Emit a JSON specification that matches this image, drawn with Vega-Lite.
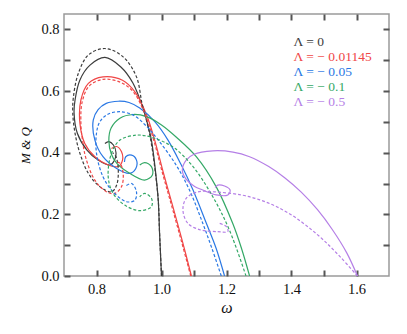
{
"$schema":"https://vega.github.io/schema/vega-lite/v6.json",
"width":325,"height":262,
"autosize":{"type":"none"},
"padding":{"left":64,"top":14,"right":18,"bottom":58},
"background":"white",
"config":{
 "view":{"stroke":"#9a9a9a","strokeWidth":1.5},
 "font":"Liberation Serif",
 "axis":{"domain":false,"grid":false,"labelFont":"Liberation Serif","labelFontSize":14.5,"labelColor":"#111","titleFont":"Liberation Serif","titleFontStyle":"italic","titleFontWeight":"normal","titleColor":"#111"},
 "legend":{"labelFont":"Liberation Serif"}
},
"datasets":{"d":[
{"s":"Λ = 0","q":"M","i":0,"w":1.0,"v":0},{"s":"Λ = 0","q":"M","i":1,"w":0.997,"v":0.07},{"s":"Λ = 0","q":"M","i":2,"w":0.994,"v":0.14},{"s":"Λ = 0","q":"M","i":3,"w":0.99,"v":0.246},{"s":"Λ = 0","q":"M","i":4,"w":0.98,"v":0.354},{"s":"Λ = 0","q":"M","i":5,"w":0.969,"v":0.441},{"s":"Λ = 0","q":"M","i":6,"w":0.958,"v":0.49},{"s":"Λ = 0","q":"M","i":7,"w":0.945,"v":0.538},{"s":"Λ = 0","q":"M","i":8,"w":0.912,"v":0.626},{"s":"Λ = 0","q":"M","i":9,"w":0.875,"v":0.678},{"s":"Λ = 0","q":"M","i":10,"w":0.826,"v":0.709},{"s":"Λ = 0","q":"M","i":11,"w":0.78,"v":0.684},{"s":"Λ = 0","q":"M","i":12,"w":0.749,"v":0.636},{"s":"Λ = 0","q":"M","i":13,"w":0.734,"v":0.571},{"s":"Λ = 0","q":"M","i":14,"w":0.731,"v":0.529},{"s":"Λ = 0","q":"M","i":15,"w":0.741,"v":0.463},{"s":"Λ = 0","q":"M","i":16,"w":0.77,"v":0.409},{"s":"Λ = 0","q":"M","i":17,"w":0.805,"v":0.376},{"s":"Λ = 0","q":"M","i":18,"w":0.841,"v":0.36},{"s":"Λ = 0","q":"M","i":19,"w":0.855,"v":0.375},{"s":"Λ = 0","q":"M","i":20,"w":0.86,"v":0.4},{"s":"Λ = 0","q":"M","i":21,"w":0.852,"v":0.425},{"s":"Λ = 0","q":"M","i":22,"w":0.838,"v":0.436},{"s":"Λ = 0","q":"M","i":23,"w":0.826,"v":0.43},
{"s":"Λ = 0","q":"Q","i":0,"w":1.0,"v":0},{"s":"Λ = 0","q":"Q","i":1,"w":0.997,"v":0.07},{"s":"Λ = 0","q":"Q","i":2,"w":0.994,"v":0.14},{"s":"Λ = 0","q":"Q","i":3,"w":0.99,"v":0.246},{"s":"Λ = 0","q":"Q","i":4,"w":0.979,"v":0.354},{"s":"Λ = 0","q":"Q","i":5,"w":0.967,"v":0.441},{"s":"Λ = 0","q":"Q","i":6,"w":0.955,"v":0.5},{"s":"Λ = 0","q":"Q","i":7,"w":0.94,"v":0.56},{"s":"Λ = 0","q":"Q","i":8,"w":0.923,"v":0.646},{"s":"Λ = 0","q":"Q","i":9,"w":0.882,"v":0.711},{"s":"Λ = 0","q":"Q","i":10,"w":0.826,"v":0.738},{"s":"Λ = 0","q":"Q","i":11,"w":0.775,"v":0.717},{"s":"Λ = 0","q":"Q","i":12,"w":0.744,"v":0.657},{"s":"Λ = 0","q":"Q","i":13,"w":0.729,"v":0.581},{"s":"Λ = 0","q":"Q","i":14,"w":0.727,"v":0.529},{"s":"Λ = 0","q":"Q","i":15,"w":0.734,"v":0.463},{"s":"Λ = 0","q":"Q","i":16,"w":0.749,"v":0.398},{"s":"Λ = 0","q":"Q","i":17,"w":0.775,"v":0.333},{"s":"Λ = 0","q":"Q","i":18,"w":0.81,"v":0.29},{"s":"Λ = 0","q":"Q","i":19,"w":0.846,"v":0.273},{"s":"Λ = 0","q":"Q","i":20,"w":0.862,"v":0.295},{"s":"Λ = 0","q":"Q","i":21,"w":0.867,"v":0.344},{"s":"Λ = 0","q":"Q","i":22,"w":0.86,"v":0.387},{"s":"Λ = 0","q":"Q","i":23,"w":0.85,"v":0.4},
{"s":"Λ = − 0.01145","q":"M","i":0,"w":1.092,"v":0},{"s":"Λ = − 0.01145","q":"M","i":1,"w":1.065,"v":0.11},{"s":"Λ = − 0.01145","q":"M","i":2,"w":1.035,"v":0.225},{"s":"Λ = − 0.01145","q":"M","i":3,"w":1.007,"v":0.33},{"s":"Λ = − 0.01145","q":"M","i":4,"w":0.979,"v":0.441},{"s":"Λ = − 0.01145","q":"M","i":5,"w":0.955,"v":0.52},{"s":"Λ = − 0.01145","q":"M","i":6,"w":0.92,"v":0.595},{"s":"Λ = − 0.01145","q":"M","i":7,"w":0.88,"v":0.635},{"s":"Λ = − 0.01145","q":"M","i":8,"w":0.82,"v":0.646},{"s":"Λ = − 0.01145","q":"M","i":9,"w":0.775,"v":0.625},{"s":"Λ = − 0.01145","q":"M","i":10,"w":0.752,"v":0.571},{"s":"Λ = − 0.01145","q":"M","i":11,"w":0.749,"v":0.495},{"s":"Λ = − 0.01145","q":"M","i":12,"w":0.764,"v":0.43},{"s":"Λ = − 0.01145","q":"M","i":13,"w":0.795,"v":0.387},{"s":"Λ = − 0.01145","q":"M","i":14,"w":0.836,"v":0.36},{"s":"Λ = − 0.01145","q":"M","i":15,"w":0.867,"v":0.355},{"s":"Λ = − 0.01145","q":"M","i":16,"w":0.88,"v":0.376},{"s":"Λ = − 0.01145","q":"M","i":17,"w":0.877,"v":0.403},{"s":"Λ = − 0.01145","q":"M","i":18,"w":0.862,"v":0.42},{"s":"Λ = − 0.01145","q":"M","i":19,"w":0.846,"v":0.414},
{"s":"Λ = − 0.01145","q":"Q","i":0,"w":1.09,"v":0},{"s":"Λ = − 0.01145","q":"Q","i":1,"w":1.062,"v":0.11},{"s":"Λ = − 0.01145","q":"Q","i":2,"w":1.032,"v":0.225},{"s":"Λ = − 0.01145","q":"Q","i":3,"w":1.004,"v":0.33},{"s":"Λ = − 0.01145","q":"Q","i":4,"w":0.976,"v":0.441},{"s":"Λ = − 0.01145","q":"Q","i":5,"w":0.951,"v":0.52},{"s":"Λ = − 0.01145","q":"Q","i":6,"w":0.915,"v":0.595},{"s":"Λ = − 0.01145","q":"Q","i":7,"w":0.875,"v":0.628},{"s":"Λ = − 0.01145","q":"Q","i":8,"w":0.82,"v":0.638},{"s":"Λ = − 0.01145","q":"Q","i":9,"w":0.778,"v":0.617},{"s":"Λ = − 0.01145","q":"Q","i":10,"w":0.756,"v":0.565},{"s":"Λ = − 0.01145","q":"Q","i":11,"w":0.752,"v":0.495},{"s":"Λ = − 0.01145","q":"Q","i":12,"w":0.757,"v":0.44},{"s":"Λ = − 0.01145","q":"Q","i":13,"w":0.768,"v":0.38},{"s":"Λ = − 0.01145","q":"Q","i":14,"w":0.795,"v":0.311},{"s":"Λ = − 0.01145","q":"Q","i":15,"w":0.831,"v":0.273},{"s":"Λ = − 0.01145","q":"Q","i":16,"w":0.856,"v":0.268},{"s":"Λ = − 0.01145","q":"Q","i":17,"w":0.877,"v":0.29},{"s":"Λ = − 0.01145","q":"Q","i":18,"w":0.882,"v":0.333},{"s":"Λ = − 0.01145","q":"Q","i":19,"w":0.872,"v":0.366},{"s":"Λ = − 0.01145","q":"Q","i":20,"w":0.86,"v":0.37},
{"s":"Λ = − 0.05","q":"M","i":0,"w":1.194,"v":0},{"s":"Λ = − 0.05","q":"M","i":1,"w":1.168,"v":0.09},{"s":"Λ = − 0.05","q":"M","i":2,"w":1.138,"v":0.171},{"s":"Λ = − 0.05","q":"M","i":3,"w":1.097,"v":0.279},{"s":"Λ = − 0.05","q":"M","i":4,"w":1.061,"v":0.36},{"s":"Λ = − 0.05","q":"M","i":5,"w":1.02,"v":0.441},{"s":"Λ = − 0.05","q":"M","i":6,"w":0.98,"v":0.5},{"s":"Λ = − 0.05","q":"M","i":7,"w":0.933,"v":0.545},{"s":"Λ = − 0.05","q":"M","i":8,"w":0.9,"v":0.563},{"s":"Λ = − 0.05","q":"M","i":9,"w":0.867,"v":0.567},{"s":"Λ = − 0.05","q":"M","i":10,"w":0.83,"v":0.56},{"s":"Λ = − 0.05","q":"M","i":11,"w":0.805,"v":0.54},{"s":"Λ = − 0.05","q":"M","i":12,"w":0.79,"v":0.506},{"s":"Λ = − 0.05","q":"M","i":13,"w":0.795,"v":0.441},{"s":"Λ = − 0.05","q":"M","i":14,"w":0.82,"v":0.387},{"s":"Λ = − 0.05","q":"M","i":15,"w":0.862,"v":0.349},{"s":"Λ = − 0.05","q":"M","i":16,"w":0.902,"v":0.333},{"s":"Λ = − 0.05","q":"M","i":17,"w":0.921,"v":0.349},{"s":"Λ = − 0.05","q":"M","i":18,"w":0.923,"v":0.376},{"s":"Λ = − 0.05","q":"M","i":19,"w":0.908,"v":0.392},{"s":"Λ = − 0.05","q":"M","i":20,"w":0.89,"v":0.387},{"s":"Λ = − 0.05","q":"M","i":21,"w":0.886,"v":0.37},
{"s":"Λ = − 0.05","q":"Q","i":0,"w":1.184,"v":0},{"s":"Λ = − 0.05","q":"Q","i":1,"w":1.155,"v":0.09},{"s":"Λ = − 0.05","q":"Q","i":2,"w":1.127,"v":0.171},{"s":"Λ = − 0.05","q":"Q","i":3,"w":1.086,"v":0.279},{"s":"Λ = − 0.05","q":"Q","i":4,"w":1.045,"v":0.36},{"s":"Λ = − 0.05","q":"Q","i":5,"w":0.99,"v":0.441},{"s":"Λ = − 0.05","q":"Q","i":6,"w":0.95,"v":0.49},{"s":"Λ = − 0.05","q":"Q","i":7,"w":0.913,"v":0.522},{"s":"Λ = − 0.05","q":"Q","i":8,"w":0.872,"v":0.533},{"s":"Λ = − 0.05","q":"Q","i":9,"w":0.835,"v":0.525},{"s":"Λ = − 0.05","q":"Q","i":10,"w":0.81,"v":0.5},{"s":"Λ = − 0.05","q":"Q","i":11,"w":0.8,"v":0.463},{"s":"Λ = − 0.05","q":"Q","i":12,"w":0.8,"v":0.398},{"s":"Λ = − 0.05","q":"Q","i":13,"w":0.82,"v":0.322},{"s":"Λ = − 0.05","q":"Q","i":14,"w":0.851,"v":0.273},{"s":"Λ = − 0.05","q":"Q","i":15,"w":0.892,"v":0.241},{"s":"Λ = − 0.05","q":"Q","i":16,"w":0.918,"v":0.246},{"s":"Λ = − 0.05","q":"Q","i":17,"w":0.923,"v":0.273},{"s":"Λ = − 0.05","q":"Q","i":18,"w":0.908,"v":0.3},{"s":"Λ = − 0.05","q":"Q","i":19,"w":0.887,"v":0.29},
{"s":"Λ = − 0.1","q":"M","i":0,"w":1.271,"v":0},{"s":"Λ = − 0.1","q":"M","i":1,"w":1.246,"v":0.09},{"s":"Λ = − 0.1","q":"M","i":2,"w":1.219,"v":0.171},{"s":"Λ = − 0.1","q":"M","i":3,"w":1.168,"v":0.29},{"s":"Λ = − 0.1","q":"M","i":4,"w":1.107,"v":0.387},{"s":"Λ = − 0.1","q":"M","i":5,"w":1.046,"v":0.45},{"s":"Λ = − 0.1","q":"M","i":6,"w":1.0,"v":0.49},{"s":"Λ = − 0.1","q":"M","i":7,"w":0.954,"v":0.517},{"s":"Λ = − 0.1","q":"M","i":8,"w":0.913,"v":0.524},{"s":"Λ = − 0.1","q":"M","i":9,"w":0.872,"v":0.512},{"s":"Λ = − 0.1","q":"M","i":10,"w":0.845,"v":0.48},{"s":"Λ = − 0.1","q":"M","i":11,"w":0.838,"v":0.44},{"s":"Λ = − 0.1","q":"M","i":12,"w":0.846,"v":0.395},{"s":"Λ = − 0.1","q":"M","i":13,"w":0.862,"v":0.366},{"s":"Λ = − 0.1","q":"M","i":14,"w":0.902,"v":0.333},{"s":"Λ = − 0.1","q":"M","i":15,"w":0.948,"v":0.311},{"s":"Λ = − 0.1","q":"M","i":16,"w":0.972,"v":0.328},{"s":"Λ = − 0.1","q":"M","i":17,"w":0.969,"v":0.355},{"s":"Λ = − 0.1","q":"M","i":18,"w":0.948,"v":0.368},{"s":"Λ = − 0.1","q":"M","i":19,"w":0.933,"v":0.36},
{"s":"Λ = − 0.1","q":"Q","i":0,"w":1.26,"v":0},{"s":"Λ = − 0.1","q":"Q","i":1,"w":1.209,"v":0.149},{"s":"Λ = − 0.1","q":"Q","i":2,"w":1.158,"v":0.257},{"s":"Λ = − 0.1","q":"Q","i":3,"w":1.097,"v":0.355},{"s":"Λ = − 0.1","q":"Q","i":4,"w":1.04,"v":0.415},{"s":"Λ = − 0.1","q":"Q","i":5,"w":0.994,"v":0.441},{"s":"Λ = − 0.1","q":"Q","i":6,"w":0.95,"v":0.455},{"s":"Λ = − 0.1","q":"Q","i":7,"w":0.923,"v":0.457},{"s":"Λ = − 0.1","q":"Q","i":8,"w":0.872,"v":0.441},{"s":"Λ = − 0.1","q":"Q","i":9,"w":0.846,"v":0.398},{"s":"Λ = − 0.1","q":"Q","i":10,"w":0.836,"v":0.322},{"s":"Λ = − 0.1","q":"Q","i":11,"w":0.851,"v":0.268},{"s":"Λ = − 0.1","q":"Q","i":12,"w":0.887,"v":0.23},{"s":"Λ = − 0.1","q":"Q","i":13,"w":0.933,"v":0.212},{"s":"Λ = − 0.1","q":"Q","i":14,"w":0.969,"v":0.225},{"s":"Λ = − 0.1","q":"Q","i":15,"w":0.969,"v":0.252},{"s":"Λ = − 0.1","q":"Q","i":16,"w":0.948,"v":0.268},{"s":"Λ = − 0.1","q":"Q","i":17,"w":0.933,"v":0.257},
{"s":"Λ = − 0.5","q":"M","i":0,"w":1.603,"v":0},{"s":"Λ = − 0.5","q":"M","i":1,"w":1.57,"v":0.075},{"s":"Λ = − 0.5","q":"M","i":2,"w":1.526,"v":0.15},{"s":"Λ = − 0.5","q":"M","i":3,"w":1.48,"v":0.215},{"s":"Λ = − 0.5","q":"M","i":4,"w":1.43,"v":0.272},{"s":"Λ = − 0.5","q":"M","i":5,"w":1.38,"v":0.318},{"s":"Λ = − 0.5","q":"M","i":6,"w":1.33,"v":0.355},{"s":"Λ = − 0.5","q":"M","i":7,"w":1.271,"v":0.387},{"s":"Λ = − 0.5","q":"M","i":8,"w":1.22,"v":0.402},{"s":"Λ = − 0.5","q":"M","i":9,"w":1.158,"v":0.406},{"s":"Λ = − 0.5","q":"M","i":10,"w":1.1,"v":0.395},{"s":"Λ = − 0.5","q":"M","i":11,"w":1.076,"v":0.376},{"s":"Λ = − 0.5","q":"M","i":12,"w":1.064,"v":0.344},{"s":"Λ = − 0.5","q":"M","i":13,"w":1.075,"v":0.315},{"s":"Λ = − 0.5","q":"M","i":14,"w":1.102,"v":0.29},{"s":"Λ = − 0.5","q":"M","i":15,"w":1.127,"v":0.279},{"s":"Λ = − 0.5","q":"M","i":16,"w":1.168,"v":0.263},{"s":"Λ = − 0.5","q":"M","i":17,"w":1.204,"v":0.263},{"s":"Λ = − 0.5","q":"M","i":18,"w":1.211,"v":0.279},{"s":"Λ = − 0.5","q":"M","i":19,"w":1.194,"v":0.292},{"s":"Λ = − 0.5","q":"M","i":20,"w":1.173,"v":0.295},{"s":"Λ = − 0.5","q":"M","i":21,"w":1.165,"v":0.287},
{"s":"Λ = − 0.5","q":"Q","i":0,"w":1.603,"v":0},{"s":"Λ = − 0.5","q":"Q","i":1,"w":1.55,"v":0.062},{"s":"Λ = − 0.5","q":"Q","i":2,"w":1.5,"v":0.115},{"s":"Λ = − 0.5","q":"Q","i":3,"w":1.45,"v":0.16},{"s":"Λ = − 0.5","q":"Q","i":4,"w":1.4,"v":0.198},{"s":"Λ = − 0.5","q":"Q","i":5,"w":1.35,"v":0.227},{"s":"Λ = − 0.5","q":"Q","i":6,"w":1.3,"v":0.248},{"s":"Λ = − 0.5","q":"Q","i":7,"w":1.245,"v":0.263},{"s":"Λ = − 0.5","q":"Q","i":8,"w":1.163,"v":0.273},{"s":"Λ = − 0.5","q":"Q","i":9,"w":1.112,"v":0.273},{"s":"Λ = − 0.5","q":"Q","i":10,"w":1.076,"v":0.252},{"s":"Λ = − 0.5","q":"Q","i":11,"w":1.066,"v":0.214},{"s":"Λ = − 0.5","q":"Q","i":12,"w":1.081,"v":0.171},{"s":"Λ = − 0.5","q":"Q","i":13,"w":1.122,"v":0.149},{"s":"Λ = − 0.5","q":"Q","i":14,"w":1.173,"v":0.144},{"s":"Λ = − 0.5","q":"Q","i":15,"w":1.204,"v":0.144},{"s":"Λ = − 0.5","q":"Q","i":16,"w":1.2,"v":0.16},{"s":"Λ = − 0.5","q":"Q","i":17,"w":1.173,"v":0.173}
]},
"data":{"name":"d"},
"layer":[
 {"transform":[{"filter":"datum.q === 'M'"}],
  "mark":{"type":"line","interpolate":"catmull-rom","strokeWidth":1.2,"clip":true},
  "encoding":{
   "x":{"field":"w","type":"quantitative","scale":{"domain":[0.7,1.7],"nice":false,"zero":false},
        "axis":{"orient":"bottom","title":"ω","titleFontSize":16,"values":[0.8,0.9,1.0,1.1,1.2,1.3,1.4,1.5,1.6],"format":".1f","labelExpr":"round(datum.value*10) % 2 == 0 ? datum.label : ''","ticks":true,"offset":-6,"tickSize":6,"tickColor":"#555555","tickWidth":2,"tickOpacity":1,"labelPadding":6,"titlePadding":4}},
   "y":{"field":"v","type":"quantitative","scale":{"domain":[0,0.85],"nice":false,"zero":false},
        "axis":{"orient":"left","title":"M & Q","titleFontSize":13,"values":[0,0.1,0.2,0.3,0.4,0.5,0.6,0.7,0.8],"format":".1f","labelExpr":"round(datum.value*10) % 2 == 0 ? datum.label : ''","ticks":true,"offset":-6,"tickSize":6,"tickColor":"#555555","tickWidth":2,"tickOpacity":1,"labelPadding":5,"titlePadding":8}},
   "color":{"field":"s","type":"nominal",
     "scale":{"domain":["Λ = 0","Λ = − 0.01145","Λ = − 0.05","Λ = − 0.1","Λ = − 0.5"],"range":["#3c3c3c","#f04646","#2a78e4","#34a866","#b57fe6"]},
     "legend":{"orient":"none","legendX":216,"legendY":21,"title":null,"symbolSize":0,"symbolOpacity":0,"symbolStrokeWidth":0,"labelOffset":0,"labelFontSize":13.5,"rowPadding":0,
       "encode":{"labels":{"update":{"fill":{"scale":"color","field":"value"}}}}}},
   "order":{"field":"i","type":"quantitative"}
  }},
 {"transform":[{"filter":"datum.q === 'Q'"}],
  "mark":{"type":"line","interpolate":"catmull-rom","strokeWidth":1.2,"strokeDash":[3,2],"clip":true},
  "encoding":{
   "x":{"field":"w","type":"quantitative","axis":{"orient":"top","title":null,"labels":false,"values":[0.8,0.9,1.0,1.1,1.2,1.3,1.4,1.5,1.6],"ticks":true,"offset":-6,"tickSize":6,"tickColor":"#555555","tickWidth":2,"tickOpacity":1}},
   "y":{"field":"v","type":"quantitative","axis":{"orient":"right","title":null,"labels":false,"values":[0.1,0.2,0.3,0.4,0.5,0.6,0.7,0.8],"ticks":true,"offset":-6,"tickSize":6,"tickColor":"#555555","tickWidth":2,"tickOpacity":1}},
   "color":{"field":"s","type":"nominal"},
   "order":{"field":"i","type":"quantitative"}
  }}
],
"resolve":{"axis":{"x":"independent","y":"independent"}}
}
